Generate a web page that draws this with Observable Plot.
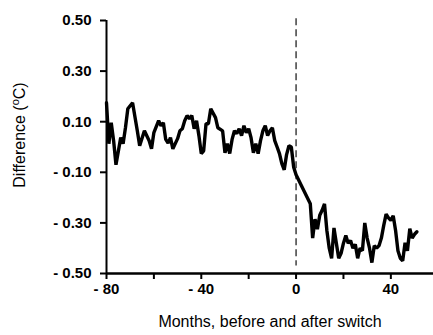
<!DOCTYPE html>
<html><head><meta charset="utf-8">
<script src="https://cdn.jsdelivr.net/npm/d3@7"></script>
<script src="https://cdn.jsdelivr.net/npm/@observablehq/plot@0.6"></script>
<style>body{margin:0;background:#fff}</style>
</head><body><div id="chart"></div>
<script>
const months = [-80,-79,-78,-77,-76,-74,-73,-72,-71,-69,-67,-66,-64,-62,-61,-60,-58,-57,-56,-55,-54,-53,-52,-50,-49,-48,-47,-46,-45,-44,-43,-42,-41,-40,-39,-38,-37,-36,-34,-33,-31,-30,-29,-28,-27,-26,-25,-24,-23,-22,-21,-20,-19,-18,-17,-16,-15,-14,-13,-12,-11,-10,-9,-8,-7,-6,-5,-4,-3,-2,-1,0,
  6,7,8,9,10,11,12,13,14,15,16,17,18,19,20,21,22,23,24,25,26,27,28,29,30,31,32,33,34,35,36,37,38,39,40,41,42,43,44,45,46,47,48,49,50,51];
const diffs = [0.175,0.013,0.096,0.025,-0.07,0.037,0.013,0.076,0.151,0.175,0.064,0.005,0.064,0.025,-0.007,0.057,0.104,0.084,0.096,0.03,0.015,0.037,-0.007,0.033,0.064,0.072,0.104,0.124,0.112,0.124,0.072,0.104,0.045,-0.026,-0.015,0.092,0.092,0.151,0.116,0.076,0.064,-0.023,0.013,-0.026,0.03,0.064,0.053,0.072,0.045,0.084,0.057,0.072,0.037,-0.023,0.013,-0.026,0.025,0.064,0.084,0.045,0.064,0.076,0.025,0.0,-0.026,-0.066,-0.09,-0.03,0.005,0.0,-0.08,-0.11,
  -0.224,-0.36,-0.285,-0.325,-0.27,-0.25,-0.225,-0.33,-0.40,-0.44,-0.32,-0.38,-0.44,-0.42,-0.38,-0.35,-0.38,-0.37,-0.40,-0.385,-0.44,-0.40,-0.41,-0.30,-0.36,-0.40,-0.457,-0.39,-0.40,-0.39,-0.36,-0.31,-0.265,-0.28,-0.29,-0.272,-0.33,-0.41,-0.44,-0.45,-0.378,-0.41,-0.323,-0.36,-0.345,-0.335];
const xTicks = [-80,-60,-40,-20,0,20,40];
const xTickLabels = ["- 80","","- 40","","0","","40"];
const yTicks = [0.5,0.3,0.1,-0.1,-0.3,-0.5];
const yTickLabels = ["0.50","0.30","0.10","- 0.10","- 0.30","- 0.50"];
const xTitle = "Months, before and after switch";
const yTitleMain = "Difference (";
const yTitleSup = "o";
const yTitleEnd = "C)";
const switchMonth = 0;

const data = months.map((m, i) => ({m, v: diffs[i]}));
const font = "'Liberation Sans', Arial, Helvetica, sans-serif";

const plot = Plot.plot({
  width: 433, height: 335,
  marginLeft: 106, marginRight: 0, marginTop: 20, marginBottom: 62,
  x: {domain: [-80, 58]},
  y: {domain: [-0.5, 0.5]},
  style: {fontFamily: font, background: "white", color: "black"},
  marks: [
    Plot.axisX({ticks: xTicks, tickFormat: d => xTickLabels[xTicks.indexOf(d)], tickSize: 6, tickPadding: 4, strokeWidth: 2, fontSize: 15, fontWeight: "bold", label: null}),
    Plot.axisY({ticks: yTicks, tickFormat: d => yTickLabels[yTicks.indexOf(d)], tickSize: 6, tickPadding: 9, strokeWidth: 2, fontSize: 15, fontWeight: "bold", label: null}),
    Plot.ruleX([switchMonth], {y1: 0.507, y2: -0.47, strokeDasharray: "7,4", strokeWidth: 1.3, stroke: "#222"}),
    Plot.line(data, {x: "m", y: "v", strokeWidth: 3.4, stroke: "black", strokeLinejoin: "miter"}),
    Plot.ruleY([-0.5], {strokeWidth: 2.5}),
    Plot.ruleX([-80], {strokeWidth: 2}),
    Plot.text([xTitle], {frameAnchor: "bottom", dy: 48, lineAnchor: "middle", fontSize: 16, fill: "black"})
  ]
});
document.getElementById("chart").appendChild(plot);

const svg = d3.select(plot);
const t = svg.append("text")
  .attr("transform", "translate(25,135) rotate(-90)")
  .attr("text-anchor", "middle")
  .attr("font-family", font)
  .attr("font-size", 16)
  .attr("fill", "black");
t.append("tspan").text(yTitleMain);
t.append("tspan").attr("font-size", 11).attr("dy", -6).text(yTitleSup);
t.append("tspan").attr("dy", 6).text(yTitleEnd);
</script>
</body></html>
